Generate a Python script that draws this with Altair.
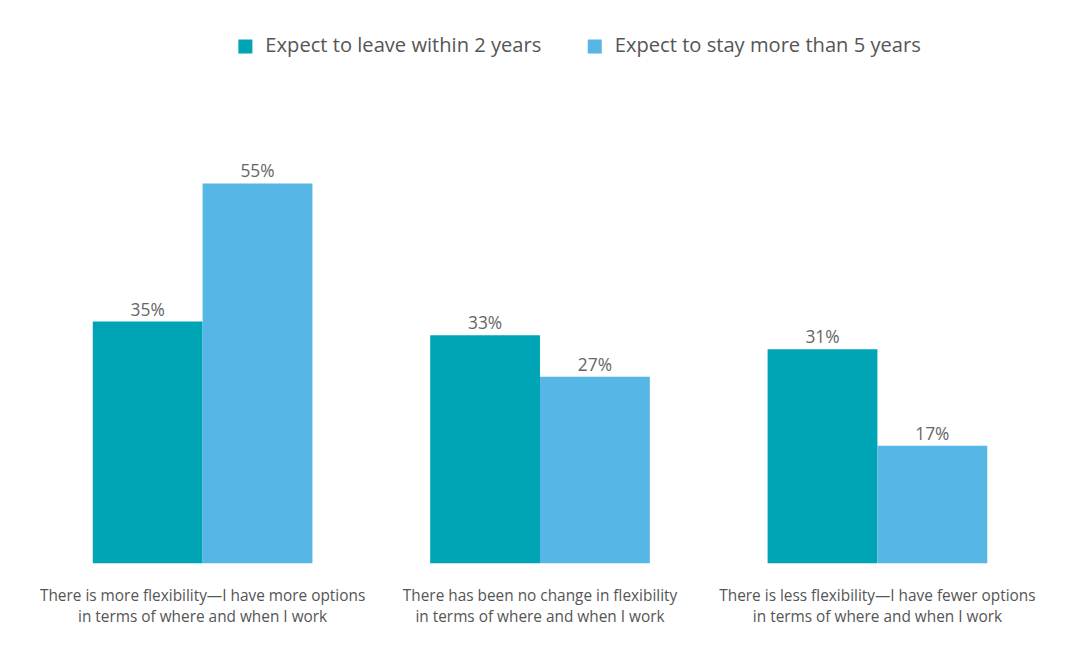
import altair as alt
import pandas as pd

categories = [
    "There is more flexibility—I have more options|in terms of where and when I work",
    "There has been no change in flexibility|in terms of where and when I work",
    "There is less flexibility—I have fewer options|in terms of where and when I work",
]
series = ["Expect to leave within 2 years", "Expect to stay more than 5 years"]
leave_vals = [35, 33, 31]
stay_vals = [55, 27, 17]
colors = ["#00A5B5", "#56B7E6"]

rows = []
for c, a, b in zip(categories, leave_vals, stay_vals):
    rows.append({"cat": c, "series": series[0], "value": a})
    rows.append({"cat": c, "series": series[1], "value": b})
df = pd.DataFrame(rows)

FONT = "Open Sans"

base = alt.Chart(df).encode(
    x=alt.X("cat:N", sort=categories,
            scale=alt.Scale(paddingInner=0.349, paddingOuter=0.213),
            axis=alt.Axis(title=None, labelAngle=0, ticks=False, domain=False,
                          labelPadding=26, labelFontSize=15.5, labelColor="#555555",
                          labelFont=FONT, labelLineHeight=21, labelLimit=0,
                          labelExpr="split(datum.label, '|')")),
    xOffset=alt.XOffset("series:N", sort=series, scale=alt.Scale(paddingInner=0, paddingOuter=0)),
)

bars = base.mark_bar().encode(
    y=alt.Y("value:Q", scale=alt.Scale(domain=[0, 70], nice=False), axis=None),
    color=alt.Color("series:N", sort=series,
                    scale=alt.Scale(domain=series, range=colors),
                    legend=alt.Legend(title=None, orient="none", direction="horizontal",
                                      columns=2, legendX=216, legendY=-44,
                                      symbolType="square", symbolSize=200,
                                      symbolStrokeWidth=0, symbolOpacity=1,
                                      labelFontSize=20.3, labelFont=FONT, labelLimit=0,
                                      labelColor="#555555", labelOffset=10,
                                      columnPadding=43)),
)

labels = base.mark_text(dy=-11, fontSize=17.5, font=FONT, color="#666666").encode(
    y=alt.Y("value:Q"),
).transform_calculate(lbl="datum.value + '%'").encode(text="lbl:N")

chart = (bars + labels).properties(
    width=1046, height=487,
    background="white",
    autosize=alt.AutoSizeParams(type="none"),
    padding={"left": 13, "top": 70, "right": 17, "bottom": 80},
).configure_view(stroke=None, strokeWidth=0)

chart.save("out.html", embed_options={"renderer": "svg", "actions": False})
